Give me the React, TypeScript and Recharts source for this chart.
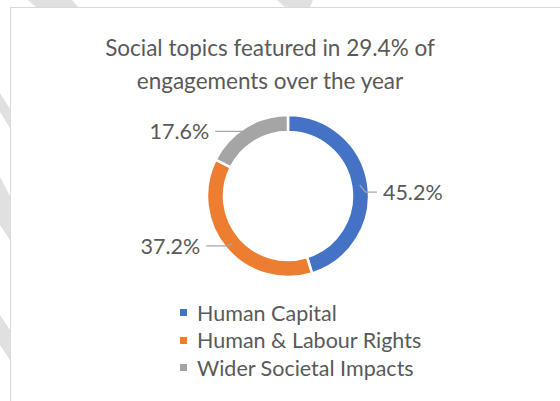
import React from 'react';
import { PieChart, Pie, Cell, Legend } from 'recharts';

const categories = ['Human Capital', 'Human & Labour Rights', 'Wider Societal Impacts'];
const values = [45.2, 37.2, 17.6];
const colors = ['#4472C4', '#ED7D31', '#A5A5A5'];
const titleLines = ['Social topics featured in 29.4% of', 'engagements over the year'];

const data = categories.map((name, i) => ({ name, value: values[i] }));

const FONT = 'Lato, "Open Sans", sans-serif';
const TEXT = '#595959';
const CX = 288;
const CY = 196;
const IR = 64;
const OR = 81;

// label layout tweaks (vertical nudge, gap from ring)
const labelLayout = [
  { dy: 7, gap: 14 },
  { dy: 3, gap: 24 },
  { dy: -3, gap: 30 },
];

const RAD = Math.PI / 180;

const renderLabel = (props: any) => {
  const { cx, cy, midAngle, innerRadius, outerRadius, index, value } = props;
  const rm = (innerRadius + outerRadius) / 2;
  const px = cx + rm * Math.cos(-midAngle * RAD);
  const py = cy + rm * Math.sin(-midAngle * RAD);
  const lay = labelLayout[index];
  const ly = py + lay.dy;
  const dyc = ly - cy;
  const ringDx = Math.sqrt(Math.max(0, outerRadius * outerRadius - dyc * dyc));
  const right = px >= cx;
  const s = right ? 1 : -1;
  const edge = cx + s * (ringDx + lay.gap);
  const ax = edge - s * 6;
  const bx = px + s * 6;
  return (
    <g>
      <polyline
        points={`${ax},${ly} ${bx},${ly} ${px},${py}`}
        fill="none"
        stroke="#A6A6A6"
        strokeWidth={1.3}
      />
      <text
        x={edge}
        y={ly}
        textAnchor={right ? 'start' : 'end'}
        dominantBaseline="central"
        fontFamily={FONT}
        fontSize={21.5}
        fill={TEXT}
      >
        {value.toFixed(1)}%
      </text>
    </g>
  );
};

const renderLegend = () => (
  <div style={{ fontFamily: FONT, fontSize: 21.5, color: TEXT }}>
    {categories.map((c, i) => (
      <div key={c} style={{ display: 'flex', alignItems: 'center', height: 27.5 }}>
        <span style={{ display: 'inline-block', width: 7, height: 7, background: colors[i], marginRight: 10 }} />
        <span>{c}</span>
      </div>
    ))}
  </div>
);

export default function App() {
  return (
    <div style={{ position: 'fixed', left: 0, top: 0, width: 560, height: 401, background: '#fff', overflow: 'hidden' }}>
      <svg width={560} height={401} style={{ position: 'absolute', left: 0, top: 0 }}>
        <polygon points="0,93 10,109 10,128 0,112" fill="#E0E0E0" />
        <polygon points="0,177 10,196 10,240 0,225" fill="#E0E0E0" />
        <polygon points="0,315 10,330 10,360 0,345" fill="#E0E0E0" />
        <polygon points="28,0 72,0 78,7 36,7" fill="#E0E0E0" />
        <polygon points="277,0 313,0 310,7 285,7" fill="#E0E0E0" />
      </svg>
      <div
        style={{
          position: 'absolute',
          left: 10,
          top: 7,
          width: 560,
          height: 420,
          border: '1px solid #D9D9D9',
          background: '#fff',
          boxSizing: 'border-box',
        }}
      />
      <div style={{ position: 'absolute', left: 0, top: 0 }}>
        <PieChart width={560} height={401} margin={{ top: 0, right: 0, bottom: 0, left: 0 }}>
          <text x={270} y={47} textAnchor="middle" dominantBaseline="central" fontFamily={FONT} fontSize={22.5} fill={TEXT}>
            {titleLines[0]}
          </text>
          <text x={270} y={80} textAnchor="middle" dominantBaseline="central" fontFamily={FONT} fontSize={22.5} fill={TEXT}>
            {titleLines[1]}
          </text>
          <Pie
            data={data}
            dataKey="value"
            nameKey="name"
            cx={CX}
            cy={CY}
            innerRadius={IR}
            outerRadius={OR}
            startAngle={90}
            endAngle={-270}
            stroke="#fff"
            strokeWidth={2.5}
            label={renderLabel}
            labelLine={false}
            isAnimationActive={false}
          >
            {data.map((d, i) => (
              <Cell key={d.name} fill={colors[i]} />
            ))}
          </Pie>
          <Legend
            content={renderLegend}
            layout="vertical"
            wrapperStyle={{ position: 'absolute', left: 180, top: 299, width: 320 }}
          />
        </PieChart>
      </div>
    </div>
  );
}
